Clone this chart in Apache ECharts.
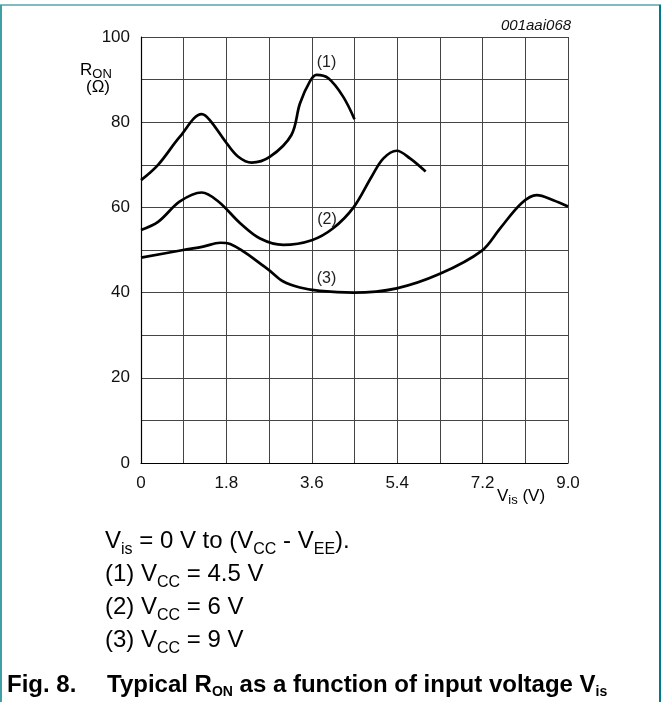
<!DOCTYPE html>
<html>
<head>
<meta charset="utf-8">
<script src="https://cdn.jsdelivr.net/npm/echarts@6/dist/echarts.min.js"></script>
<style>
html,body{margin:0;padding:0;background:#fff;}
#c{width:664px;height:702px;}
</style>
</head>
<body>
<div id="c"></div>
<script>
// Data
var curve1 = [[0,66.4],[0.36,70],[0.82,76.6],[1.28,81.9],[1.45,80.5],[1.81,75],[2.05,71.9],[2.33,70.5],[2.72,71.9],[3.17,77],[3.35,84.4],[3.56,89.6],[3.70,91.1],[3.95,90.3],[4.26,86],[4.5,80.7]];
var curve2 = [[0,54.7],[0.36,56.6],[0.82,61.4],[1.28,63.5],[1.63,61.4],[2.09,56.3],[2.51,52.7],[3.0,51.2],[3.6,52.3],[4.05,55.1],[4.48,60],[4.86,67.2],[5.11,71.5],[5.39,73.3],[5.67,71.5],[6.0,68.4]];
var curve3 = [[0,48.2],[0.89,50],[1.31,50.8],[1.67,51.7],[1.88,51.4],[2.65,45.7],[3.0,42.6],[3.35,41.2],[3.77,40.4],[4.48,40.0],[5.39,41.0],[6.30,44.4],[7.18,49.8],[7.57,55.1],[8.02,61],[8.34,62.9],[8.69,61.7],[9.0,60.2]];
var curveLabels = ['(1)','(2)','(3)'];
var labelPos = [[3.91,94.0],[3.92,57.1],[3.91,43.2]];
var xTicks = {min:0, max:9, step:1.8};
var yTicks = {min:0, max:100, step:20};

var FONT = '"Liberation Sans", Arial, sans-serif';
var TEAL = '#00798a';
var GRID = '#444';

function mkSeries(data, idx){
  return {
    type:'line', data:data, smooth:0.35, symbol:'none',
    lineStyle:{color:'#000', width:2.7},
    markPoint:{
      symbol:'circle', symbolSize:0,
      data:[{coord:labelPos[idx], value:curveLabels[idx]}],
      label:{show:true, formatter:curveLabels[idx], color:'#222', fontSize:16, fontFamily:FONT, position:'inside'}
    },
    z:5
  };
}

var chart = echarts.init(document.getElementById('c'), null, {renderer:'canvas'});
chart.setOption({
  backgroundColor:'#fff',
  animation:false,
  grid:{left:141, top:37, width:427, height:426, containLabel:false},
  xAxis:{
    type:'value', min:xTicks.min, max:xTicks.max, interval:xTicks.step,
    axisLine:{show:true, lineStyle:{color:'#000', width:1.2}},
    axisTick:{show:false},
    axisLabel:{color:'#111', fontSize:17, fontFamily:FONT, margin:12,
      formatter:function(v){ return v===0 ? '0' : v.toFixed(1); }},
    splitLine:{show:true, lineStyle:{color:GRID, width:1}},
    minorTick:{show:false, splitNumber:2},
    minorSplitLine:{show:true, lineStyle:{color:GRID, width:1}}
  },
  yAxis:{
    type:'value', min:yTicks.min, max:yTicks.max, interval:yTicks.step,
    axisLine:{show:true, lineStyle:{color:'#000', width:1.2}},
    axisTick:{show:false},
    axisLabel:{color:'#111', fontSize:17, fontFamily:FONT, margin:11},
    splitLine:{show:true, lineStyle:{color:GRID, width:1}},
    minorTick:{show:false, splitNumber:2},
    minorSplitLine:{show:true, lineStyle:{color:GRID, width:1}}
  },
  series:[mkSeries(curve1,0), mkSeries(curve2,1), mkSeries(curve3,2)],
  graphic:[
    // frame
    {type:'rect', shape:{x:0, y:4, width:661, height:2}, style:{fill:'#7fbcc2'}, silent:true},
    {type:'rect', shape:{x:0, y:5, width:2, height:697}, style:{fill:'#3f9ea6'}, silent:true},
    {type:'rect', shape:{x:659, y:5, width:2, height:697}, style:{fill:'#00798a'}, silent:true},
    // id
    {type:'text', left:501, top:17, style:{text:'001aai068', fontSize:15, fontStyle:'italic', fontFamily:FONT, fill:'#111', lineHeight:18}},
    // y name
    {type:'text', left:80, top:62, style:{rich:{m:{fontSize:17, fontFamily:FONT, color:'#111', lineHeight:20}, s:{fontSize:13, fontFamily:FONT, color:'#111', lineHeight:11, verticalAlign:'bottom'}}, text:'{m|R}{s|ON}'}},
    {type:'text', left:86, top:79, style:{rich:{m:{fontSize:17, fontFamily:FONT, color:'#111', lineHeight:20}}, text:'{m|(\u03A9)}'}},
    // x name
    {type:'text', left:497, top:488, style:{rich:{m:{fontSize:17, fontFamily:FONT, color:'#111', lineHeight:20}, s:{fontSize:13, fontFamily:FONT, color:'#111', lineHeight:8, verticalAlign:'bottom'}}, text:'{m|V}{s|is}{m| (V)}'}},
    // notes
    {type:'text', left:105, top:529, style:{
      rich:{m:{fontSize:24, fontFamily:FONT, color:'#111', lineHeight:33}, s:{fontSize:16, fontFamily:FONT, color:'#111', lineHeight:18, verticalAlign:'bottom'}},
      text:'{m|V}{s|is}{m| = 0 V to (V}{s|CC}{m| - V}{s|EE}{m|).}\n{m|(1) V}{s|CC}{m| = 4.5 V}\n{m|(2) V}{s|CC}{m| = 6 V}\n{m|(3) V}{s|CC}{m| = 9 V}'
    }},
    // caption
    {type:'text', left:7, top:673, style:{
      rich:{m:{fontSize:24, fontWeight:'bold', fontFamily:FONT, color:TEAL, lineHeight:28}},
      text:'{m|Fig. 8.}'
    }},
    {type:'text', left:107, top:673, style:{
      rich:{m:{fontSize:24, fontWeight:'bold', fontFamily:FONT, color:TEAL, lineHeight:28}, s:{fontSize:14, fontWeight:'bold', fontFamily:FONT, color:TEAL, lineHeight:14, verticalAlign:'bottom'}},
      text:'{m|Typical R}{s|ON}{m| as a function of input voltage V}{s|is}'
    }}
  ]
});
</script>
</body>
</html>
